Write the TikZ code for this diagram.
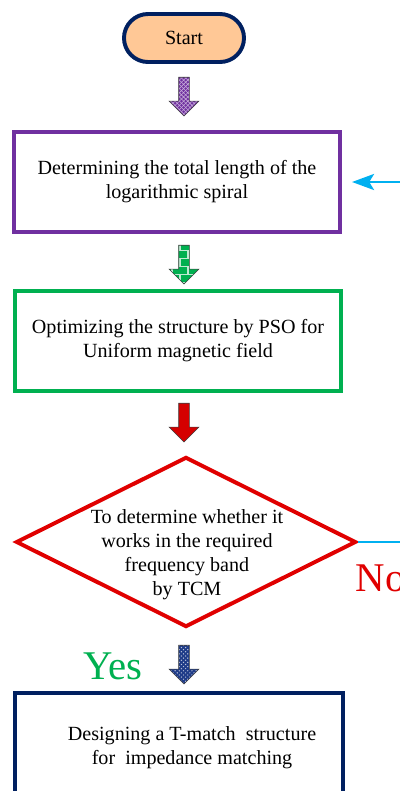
\documentclass[tikz,border=0pt]{standalone}
\usepackage{fontspec}
\setmainfont{Liberation Serif}
\usepackage{tikz}
\usetikzlibrary{arrows.meta, positioning, calc, shapes.geometric, shapes.arrows, patterns}
\definecolor{startFill}{HTML}{FFC896}
\definecolor{navyLine}{HTML}{002060}
\definecolor{purpleLine}{HTML}{7030A0}
\definecolor{greenLine}{HTML}{00B050}
\definecolor{redLine}{HTML}{E00000}
\definecolor{loopBlue}{HTML}{00B0F0}
\definecolor{dotBlue}{HTML}{1F3C88}

\begin{document}
\begin{tikzpicture}[
      x=0.025cm, y=-0.025cm,
      font=\fontsize{14.3}{17.1}\selectfont,
      stepbox/.style={draw=#1, line width=2.8pt, rectangle, minimum width=8.15cm,
                      minimum height=2.5cm, align=center, fill=white},
      downarrow/.style={single arrow, shape border rotate=270, draw=black!75,
                        line width=0.4pt, inner sep=0.125cm, minimum height=0.97cm,
                        single arrow head extend=0.24cm},
      bigword/.style={font=\fontsize{29}{34}\selectfont, anchor=base}
    ]
    \clip (0,0) rectangle (400,791);
    \node[draw=navyLine, fill=startFill, line width=2.8pt, rounded corners=0.6cm,
          minimum width=3.0cm, minimum height=1.2cm] (start) at (184,38) {Start};
    \node[downarrow, preaction={fill=purpleLine}, pattern=crosshatch,
          pattern color=white!60!purpleLine] (arr1) at (184,94) {};
    \node[stepbox=purpleLine] (len) at (177,182)
      {Determining the total length of the\\logarithmic spiral};
    \node[downarrow, preaction={fill=greenLine}, pattern=bricks,
          pattern color=white!75!greenLine] (arr2) at (184,262) {};
    \node[stepbox=greenLine] (pso) at (178,341)
      {Optimizing the structure by PSO for\\Uniform magnetic field};
    \node[downarrow, fill=redLine!95!black] (arr3) at (184,420) {};
    \node[diamond, draw=redLine, line width=2.8pt, inner sep=0pt,
          minimum width=8.5cm, minimum height=4.25cm] (chk) at (186,542) {};
    \node[align=center] (chktxt) at (187,555)
      {To determine whether it\\works in the required\\frequency band\\by TCM};
    \node[downarrow, preaction={fill=dotBlue}, pattern=crosshatch dots,
          pattern color=white!70!dotBlue] (arr4) at (184,662) {};
    \node[draw=navyLine, line width=2.8pt, minimum width=8.2cm, minimum height=2.7cm,
          fill=white] (tmatch) at (179,747) {};
    \node[align=center] (tmtxt) at (192,748)
      {Designing a T-match\ \ structure\\for\ \ impedance matching};
    \node[bigword, text=greenLine] (yes) at (113,679) {Yes};
    \node[bigword, text=redLine, anchor=base west] (no) at (351,591) {No};
    % loop back when the band is not reached
    \draw[loopBlue, line width=2pt, shorten >=0.25cm,
          -{Stealth[length=0.55cm, width=0.4cm, inset=0.12cm]}]
      (chk.east) -- ++(70,0) |- (len.east);
  \end{tikzpicture}
\end{document}
